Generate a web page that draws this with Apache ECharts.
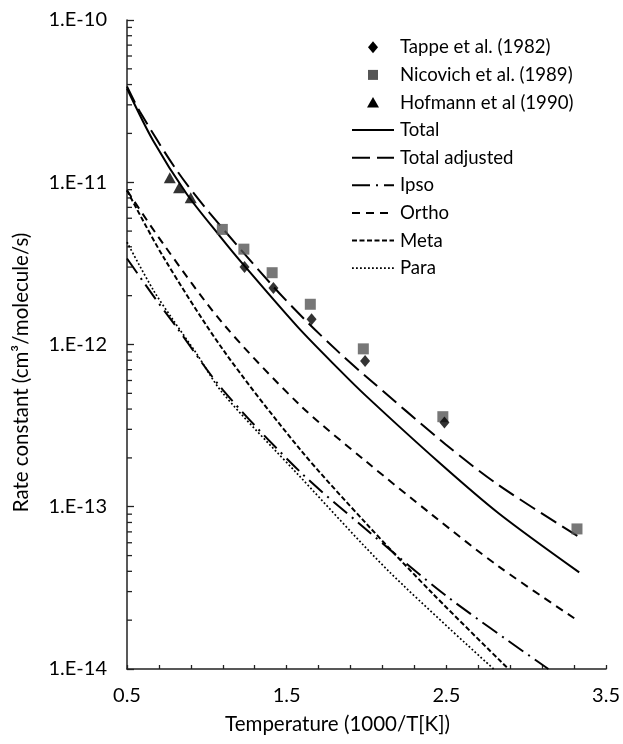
<!DOCTYPE html>
<html>
<head>
<meta charset="utf-8">
<script src="https://cdn.jsdelivr.net/npm/echarts@6/dist/echarts.min.js"></script>
<style>html,body{margin:0;padding:0;background:#fff}#c{width:623px;height:744px}</style>
</head>
<body>
<div id="c"></div>
<script>
// ---- data (x = 1000/T, y = rate constant) ----
const tappe = [[1.236,3.0e-12],[1.417,2.23e-12],[1.656,1.43e-12],[1.991,7.9e-13],[2.488,3.3e-13]];
const nicovich = [[1.097,5.12e-12],[1.232,3.87e-12],[1.409,2.77e-12],[1.648,1.77e-12],[1.980,9.4e-13],[2.478,3.59e-13],[3.318,7.3e-14]];
const hofmann = [[0.768,1.065e-11],[0.826,9.24e-12],[0.899,8.02e-12]];
const total = [[0.5,3.78e-11],[0.664,1.80e-11],[0.872,8.53e-12],[1.08,4.68e-12],[1.236,3.05e-12],[1.573,1.27e-12],[1.829,7.0e-13],[1.995,4.84e-13],[2.453,1.88e-13],[2.827,9.12e-14],[3.332,3.94e-14]];
const totalAdj = [[0.5,3.89e-11],[0.581,2.72e-11],[0.81,1.19e-11],[1.018,6.46e-12],[1.419,2.26e-12],[1.621,1.40e-12],[1.829,8.91e-13],[1.995,6.38e-13],[2.494,2.43e-13],[2.827,1.36e-13],[3.332,6.5e-14]];
const ipso = [[0.5,3.39e-12],[0.664,2.0e-12],[0.8,1.32e-12],[1.1,5.25e-13],[1.579,1.66e-13],[1.974,7.59e-14],[2.5,2.82e-14],[3.139,1.0e-14]];
const ortho = [[0.5,8.91e-12],[0.727,4.17e-12],[1.1,1.35e-12],[1.579,4.27e-13],[1.995,1.91e-13],[2.411,8.91e-14],[2.827,4.29e-14],[3.332,1.96e-14]];
const meta = [[0.5,8.91e-12],[0.727,3.47e-12],[1.1,9.33e-13],[1.579,2.29e-13],[1.995,7.94e-14],[2.411,2.94e-14],[2.889,1.0e-14]];
const para = [[0.5,4.27e-12],[0.664,2.17e-12],[0.788,1.42e-12],[0.934,8.83e-13],[1.1,5.01e-13],[1.579,1.55e-13],[2.141,3.99e-14],[2.796,1.0e-14]];
// ---- axis ticks ----
const xTickLabels = [0.5, 1.5, 2.5, 3.5];
const yMinorMantissa = [2,3,4,5,6,7,8,9];
const yDecades = [1e-14, 1e-13, 1e-12, 1e-11];
// ---- legend entries ----
const legendNames = ['Tappe et al. (1982)', 'Nicovich et al. (1989)', 'Hofmann et al (1990)', 'Total', 'Total adjusted', 'Ipso', 'Ortho', 'Meta', 'Para'];

const minorTicks = [];
yDecades.forEach(d => yMinorMantissa.forEach(m => minorTicks.push([0.5, m * d])));

const FONT = 'Lato';
const dash = {
  'Total': null, 'Total adjusted': [18, 7], 'Ipso': [18, 6, 2, 6],
  'Ortho': [8, 6], 'Meta': [5, 2.5], 'Para': [1.8, 2.2]
};
const widths = {'Total': 2, 'Total adjusted': 2, 'Ipso': 2, 'Ortho': 2, 'Meta': 2, 'Para': 1.7};

const chart = echarts.init(document.getElementById('c'), null, {renderer: 'canvas'});

function lineSeries(name, data) {
  return {
    name, type: 'line', data, smooth: 0.3, symbol: 'none',
    lineStyle: {color: '#000', width: widths[name], type: dash[name] || 'solid', cap: 'butt'},
    itemStyle: {color: '#000'}, z: 3, silent: true
  };
}

// legend drawn as graphic (to keep dash patterns)
const LX0 = 352, LX1 = 394, LSX = 373, LTX = 400, LY0 = 47.3, LDY = 27.6;
const legendGraphic = [];
legendNames.forEach((name, i) => {
  const y = LY0 + i * LDY;
  if (i === 0) {
    legendGraphic.push({type: 'polygon', shape: {points: [[LSX, y - 6], [LSX + 5, y], [LSX, y + 6], [LSX - 5, y]]}, style: {fill: '#000'}});
  } else if (i === 1) {
    legendGraphic.push({type: 'rect', shape: {x: LSX - 5, y: y - 5, width: 10, height: 10}, style: {fill: '#555'}});
  } else if (i === 2) {
    legendGraphic.push({type: 'polygon', shape: {points: [[LSX, y - 5.5], [LSX + 6, y + 5], [LSX - 6, y + 5]]}, style: {fill: '#000'}});
  } else {
    legendGraphic.push({type: 'line', shape: {x1: LX0, y1: y, x2: LX1, y2: y},
      style: {stroke: '#000', lineWidth: widths[name], lineDash: dash[name] || null}});
  }
  legendGraphic.push({type: 'text', x: LTX, y: y,
    style: {text: name, fill: '#000', font: '18.6px ' + FONT, verticalAlign: 'middle', align: 'left'}});
});

chart.setOption({
  animation: false,
  backgroundColor: '#fff',
  grid: {left: 127, right: 15, top: 20, bottom: 75},
  graphic: legendGraphic,
  xAxis: {
    type: 'value', min: 0.5, max: 3.5, interval: 0.2,
    name: 'Temperature (1000/T[K])', nameLocation: 'middle', nameGap: 45,
    nameTextStyle: {fontFamily: FONT, fontSize: 20.5, color: '#000', padding: [0, 58, 0, 0]},
    axisLine: {lineStyle: {color: '#222', width: 1.5}},
    axisTick: {inside: true, length: 4, lineStyle: {color: '#222', width: 1.3}},
    axisLabel: {
      margin: 17, fontFamily: FONT, fontSize: 20, color: '#000',
      formatter: v => {
        const hit = xTickLabels.find(t => Math.abs(t - v) < 1e-6);
        return hit !== undefined ? hit.toFixed(1) : '';
      }
    },
    splitLine: {show: false}
  },
  yAxis: {
    type: 'log', logBase: 10, min: 1e-14, max: 1e-10,
    name: 'Rate constant (cm³/molecule/s)', nameLocation: 'middle', nameGap: 95,
    nameTextStyle: {fontFamily: FONT, fontSize: 20.5, color: '#000', padding: [0, 56, 0, 0]},
    axisLine: {show: true, lineStyle: {color: '#222', width: 1.5}},
    axisTick: {inside: true, length: 7, lineStyle: {color: '#222', width: 1.3}},
    axisLabel: {
      margin: 20, fontFamily: FONT, fontSize: 20, color: '#000',
      formatter: v => {
        const e = Math.round(Math.log10(v));
        return '1.E' + (e < 0 ? '-' : '+') + String(Math.abs(e));
      }
    },
    splitLine: {show: false}
  },
  series: [
    {
      name: 'minorTicks', type: 'custom', data: minorTicks, silent: true, z: 1,
      renderItem: (params, api) => {
        const p = api.coord([api.value(0), api.value(1)]);
        const x0 = params.coordSys.x;
        return {type: 'line', shape: {x1: x0, y1: p[1], x2: x0 + 5, y2: p[1]},
                style: {stroke: '#222', lineWidth: 1.3}};
      }
    },
    lineSeries('Total', total),
    lineSeries('Total adjusted', totalAdj),
    lineSeries('Ipso', ipso),
    lineSeries('Ortho', ortho),
    lineSeries('Meta', meta),
    lineSeries('Para', para),
    {name: 'Tappe et al. (1982)', type: 'scatter', data: tappe, symbol: 'diamond', symbolSize: [10, 12],
     itemStyle: {color: '#000'}, z: 5},
    {name: 'Nicovich et al. (1989)', type: 'scatter', data: nicovich, symbol: 'rect', symbolSize: 11,
     itemStyle: {color: '#555'}, z: 4},
    {name: 'Hofmann et al (1990)', type: 'scatter', data: hofmann, symbol: 'triangle', symbolSize: [12, 11],
     itemStyle: {color: '#000'}, z: 5}
  ]
});
</script>
</body>
</html>
